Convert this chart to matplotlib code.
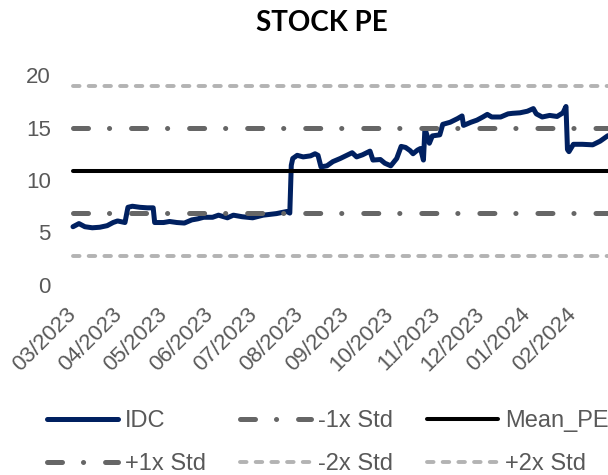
import matplotlib
matplotlib.use("Agg")
import matplotlib.pyplot as plt
import matplotlib.dates as mdates
import numpy as np
import pandas as pd

plt.rcParams['lines.scale_dashes'] = False

# ---- data ----
dates = ["2023-03-01", "2023-03-05", "2023-03-09", "2023-03-14", "2023-03-19", "2023-03-24",
         "2023-03-28", "2023-03-31", "2023-04-05", "2023-04-07", "2023-04-10", "2023-04-15",
         "2023-04-20", "2023-04-24", "2023-04-25", "2023-05-01", "2023-05-05", "2023-05-10",
         "2023-05-15", "2023-05-20", "2023-05-24", "2023-05-28", "2023-06-03", "2023-06-07",
         "2023-06-13", "2023-06-17", "2023-06-23", "2023-06-30", "2023-07-07", "2023-07-16",
         "2023-07-23", "2023-07-25", "2023-07-26", "2023-07-27", "2023-07-30", "2023-08-03",
         "2023-08-08", "2023-08-11", "2023-08-13", "2023-08-15", "2023-08-19", "2023-08-23",
         "2023-08-28", "2023-09-05", "2023-09-08", "2023-09-12", "2023-09-17", "2023-09-19",
         "2023-09-24", "2023-09-27", "2023-10-01", "2023-10-05", "2023-10-08", "2023-10-11",
         "2023-10-14", "2023-10-16", "2023-10-19", "2023-10-21", "2023-10-23", "2023-10-24",
         "2023-10-27", "2023-10-29", "2023-11-03", "2023-11-05", "2023-11-10", "2023-11-15",
         "2023-11-18", "2023-11-19", "2023-11-24", "2023-11-28", "2023-12-02", "2023-12-05",
         "2023-12-08", "2023-12-14", "2023-12-19", "2023-12-22", "2023-12-27", "2024-01-01",
         "2024-01-05", "2024-01-07", "2024-01-11", "2024-01-16", "2024-01-21", "2024-01-25",
         "2024-01-27", "2024-01-28", "2024-01-29", "2024-02-01", "2024-02-07", "2024-02-14",
         "2024-02-19", "2024-02-24", "2024-02-28"]
idc_pe = [5.55, 5.85, 5.55, 5.45, 5.5, 5.65,
          5.95, 6.1, 5.95, 7.4, 7.5, 7.4,
          7.35, 7.35, 5.95, 5.95, 6.05, 5.95,
          5.9, 6.2, 6.3, 6.45, 6.45, 6.65,
          6.4, 6.65, 6.5, 6.4, 6.65, 6.8,
          7.0, 6.85, 11.4, 12.05, 12.35, 12.2,
          12.3, 12.5, 12.35, 11.25, 11.35, 11.75,
          12.05, 12.6, 12.2, 12.4, 12.75, 11.9,
          11.95, 11.6, 11.35, 12.05, 13.2, 13.1,
          12.8, 12.5, 12.85, 13.0, 11.9, 14.9,
          13.5, 14.2, 14.3, 15.3, 15.5, 15.85,
          16.1, 15.2, 15.5, 15.7, 16.0, 16.25,
          16.0, 16.0, 16.3, 16.35, 16.4, 16.55,
          16.8, 16.3, 16.0, 16.15, 16.05, 16.4,
          17.0, 12.9, 12.7, 13.4, 13.4, 13.35,
          13.7, 14.2, 14.4]
mean_pe = 10.86
std_pe = 4.05
x_start, x_end = "2023-03-01", "2024-02-28"
y_ticks = [0, 5, 10, 15, 20]

dt = pd.to_datetime(dates)
band_x = pd.to_datetime([x_start, x_end])

# ---- figure ----
W, H = 608, 475
fig = plt.figure(figsize=(W / 100, H / 100), dpi=100)
x0_px, x1_px = 73, 613.5
ax = fig.add_axes([x0_px / W, (H - 285) / H, (x1_px - x0_px) / W, (285 - 75) / H])

txt_col = '#595959'
dk = '#666666'
lt = '#B3B3B3'

l_idc, = ax.plot(dt, idc_pe, color='#002060', lw=3.6, solid_capstyle='round',
                 solid_joinstyle='round', label='IDC', zorder=2)
dashdot = (0, (10.8, 15.1, 0.1, 15.8))
dashed = (0, (4.7, 6.6))
l_m1, = ax.plot(band_x, [mean_pe - std_pe] * 2, color=dk, lw=3.6, linestyle=dashdot,
                dash_capstyle='round', label='-1x Std', zorder=3)
l_mean, = ax.plot(band_x, [mean_pe] * 2, color='black', lw=2.9, solid_capstyle='round',
                  label='Mean_PE', zorder=3)
l_p1, = ax.plot(band_x, [mean_pe + std_pe] * 2, color=dk, lw=3.6, linestyle=dashdot,
                dash_capstyle='round', label='+1x Std', zorder=3)
l_m2, = ax.plot(band_x, [mean_pe - 2 * std_pe] * 2, color=lt, lw=2.8, linestyle=dashed,
                dash_capstyle='round', label='-2x Std', zorder=3)
l_p2, = ax.plot(band_x, [mean_pe + 2 * std_pe] * 2, color=lt, lw=2.8, linestyle=dashed,
                dash_capstyle='round', label='+2x Std', zorder=3)

for l in ax.get_lines():
    l.set_clip_on(False)

ax.set_xlim(band_x[0], band_x[1])
ax.set_ylim(y_ticks[0], y_ticks[-1])
ax.set_yticks(y_ticks)
ax.xaxis.set_major_locator(mdates.MonthLocator())
ax.xaxis.set_major_formatter(mdates.DateFormatter('%m/%Y'))
for s in ax.spines.values():
    s.set_visible(False)
ax.tick_params(axis='both', length=0, colors=txt_col, labelsize=16)
ax.tick_params(axis='y', pad=16)
ax.tick_params(axis='x', pad=19)
for lab in ax.get_yticklabels():
    lab.set_fontfamily('Liberation Sans')
for lab in ax.get_xticklabels():
    lab.set_fontfamily('Liberation Sans')
    lab.set_rotation(45)
    lab.set_ha('right')
    lab.set_va('center')
    lab.set_rotation_mode('anchor')

fig.text(322 / W, 1 - 23 / H, 'STOCK PE', ha='center', va='center',
         fontsize=20, fontweight='bold', family='Lato', color='black')

handles = [l_idc, l_p1, l_m1, l_m2, l_mean, l_p2]
leg = fig.legend(handles, [h.get_label() for h in handles], ncol=3,
                 loc='upper left', bbox_to_anchor=(47 / W, 1 - 410 / H),
                 frameon=False, borderpad=0, borderaxespad=0,
                 handlelength=3.0, handletextpad=0.3, columnspacing=1.45,
                 labelspacing=0.9, prop={'family': 'Liberation Sans', 'size': 17})
for t in leg.get_texts():
    t.set_color(txt_col)

fig.savefig('out.png', dpi=100)
